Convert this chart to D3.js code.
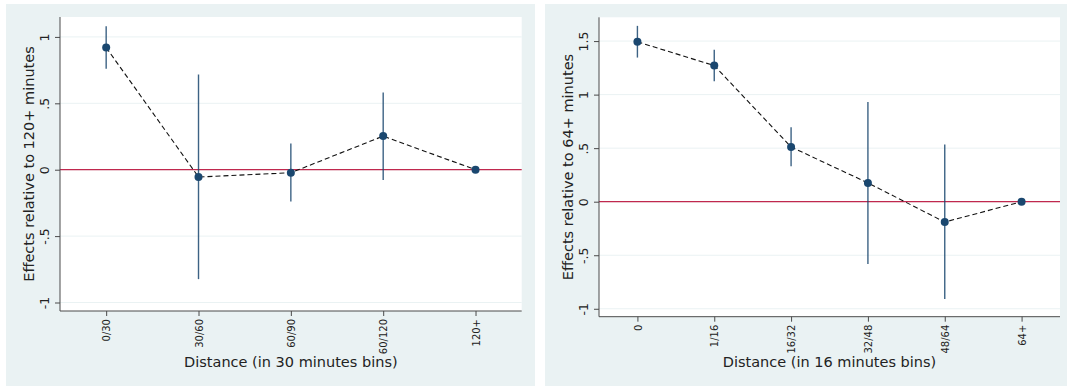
<!DOCTYPE html>
<html>
<head>
<meta charset="utf-8">
<script src="https://cdn.jsdelivr.net/npm/d3@7"></script>
<style>
  html, body { margin: 0; padding: 0; background: #fff; }
  svg { display: block; font-family: "DejaVu Sans", sans-serif; }
</style>
</head>
<body>
<svg id="chart" width="1067" height="387"></svg>
<script>
// data
const leftBins = ['0/30', '30/60', '60/90', '60/120', '120+'];
const leftEst = [0.92, -0.055, -0.023, 0.253, 0];
const leftLo = [0.76, -0.824, -0.24, -0.077, null];
const leftHi = [1.08, 0.717, 0.198, 0.582, null];
const leftYTicks = [-1, -0.5, 0, 0.5, 1];

const rightBins = ['0', '1/16', '16/32', '32/48', '48/64', '64+'];
const rightEst = [1.493, 1.271, 0.511, 0.175, -0.19, 0];
const rightLo = [1.346, 1.125, 0.331, -0.582, -0.909, null];
const rightHi = [1.642, 1.418, 0.695, 0.932, 0.533, null];
const rightYTicks = [-1, -0.5, 0, 0.5, 1, 1.5];

const BG = '#eaf2f3';
const NAVY = '#1a476f';
const AXIS = '#4a4a4a';

const svg = d3.select('#chart');

// stata style tick labels: .5, -.5
const fmt = v => String(v).replace('0.', '.');

function drawPanel(opt) {
  const { outer, plot, bins, est, lo, hi, yTicks, yDomain, yTitle, xTitle } = opt;

  svg.append('rect')
    .attr('x', outer.x0).attr('y', outer.y0)
    .attr('width', outer.x1 - outer.x0).attr('height', outer.y1 - outer.y0)
    .attr('fill', BG);

  svg.append('rect')
    .attr('x', plot.x0).attr('y', plot.y0)
    .attr('width', plot.x1 - plot.x0).attr('height', plot.y1 - plot.y0)
    .attr('fill', '#fff');

  const x = d3.scaleLinear().domain([-0.5, bins.length - 0.5]).range([plot.x0, plot.x1]);
  const y = d3.scaleLinear().domain(yDomain).range([plot.y1, plot.y0]);

  const g = svg.append('g');

  // grid
  g.append('g')
    .selectAll('line')
    .data(yTicks)
    .join('line')
    .attr('x1', plot.x0).attr('x2', plot.x1)
    .attr('y1', d => y(d)).attr('y2', d => y(d))
    .attr('stroke', BG).attr('stroke-width', 1);

  // zero reference line
  g.append('line')
    .attr('x1', plot.x0).attr('x2', plot.x1)
    .attr('y1', y(0)).attr('y2', y(0))
    .attr('stroke', '#c0284e').attr('stroke-width', 1.2);

  // y axis
  const yAxis = g.append('g')
    .attr('transform', `translate(${plot.x0},0)`)
    .call(d3.axisLeft(y).tickValues(yTicks).tickFormat(fmt).tickSize(5).tickSizeOuter(0));
  yAxis.select('.domain').attr('stroke', AXIS).attr('d', `M0,${plot.y0}V${plot.y1}`);
  yAxis.selectAll('.tick line').attr('stroke', AXIS);
  yAxis.selectAll('text')
    .attr('transform', 'rotate(-90)')
    .attr('text-anchor', 'middle')
    .attr('x', 0).attr('y', -11.5).attr('dy', 0)
    .attr('font-size', 12.5).attr('fill', '#222')
    .attr('font-family', '"DejaVu Sans", sans-serif');

  // x axis
  const xAxis = g.append('g')
    .attr('transform', `translate(0,${plot.y1})`)
    .call(d3.axisBottom(x).tickValues(d3.range(bins.length)).tickFormat(i => bins[i]).tickSize(5).tickSizeOuter(0));
  xAxis.select('.domain').attr('stroke', AXIS).attr('d', `M${plot.x0},0H${plot.x1}`);
  xAxis.selectAll('.tick line').attr('stroke', AXIS);
  xAxis.selectAll('text')
    .attr('transform', 'rotate(-90)')
    .attr('text-anchor', 'end')
    .attr('x', -8).attr('y', 0).attr('dy', '0.36em')
    .attr('font-size', 10).attr('fill', '#222')
    .attr('font-family', '"DejaVu Sans", sans-serif');

  // confidence intervals
  const idx = d3.range(bins.length).filter(i => lo[i] !== null);
  g.append('g')
    .selectAll('line')
    .data(idx)
    .join('line')
    .attr('x1', i => x(i)).attr('x2', i => x(i))
    .attr('y1', i => y(lo[i])).attr('y2', i => y(hi[i]))
    .attr('stroke', NAVY).attr('stroke-width', 1.4).attr('stroke-opacity', 0.85);

  // connecting dashed line
  const line = d3.line().x((d, i) => x(i)).y(d => y(d));
  g.append('path')
    .datum(est)
    .attr('d', line)
    .attr('fill', 'none')
    .attr('stroke', '#111')
    .attr('stroke-width', 1.1)
    .attr('stroke-dasharray', '5,3');

  // point estimates
  g.append('g')
    .selectAll('circle')
    .data(est)
    .join('circle')
    .attr('cx', (d, i) => x(i))
    .attr('cy', d => y(d))
    .attr('r', 4)
    .attr('fill', NAVY);

  // titles
  const cy = (plot.y0 + plot.y1) / 2;
  g.append('text')
    .attr('transform', `translate(${plot.x0 - 26},${cy}) rotate(-90)`)
    .attr('text-anchor', 'middle')
    .attr('font-size', 14.5).attr('fill', '#222')
    .text(yTitle);

  g.append('text')
    .attr('x', (plot.x0 + plot.x1) / 2)
    .attr('y', 367)
    .attr('text-anchor', 'middle')
    .attr('font-size', 14.5).attr('fill', '#222')
    .text(xTitle);
}

drawPanel({
  outer: { x0: 6, y0: 4, x1: 535, y1: 386 },
  plot: { x0: 60, y0: 17, x1: 521.7, y1: 311 },
  bins: leftBins, est: leftEst, lo: leftLo, hi: leftHi,
  yTicks: leftYTicks,
  yDomain: [-1.064, 1.15],
  yTitle: 'Effects relative to 120+ minutes',
  xTitle: 'Distance (in 30 minutes bins)',
});

drawPanel({
  outer: { x0: 545, y0: 4, x1: 1067, y1: 386 },
  plot: { x0: 599, y0: 17.3, x1: 1060, y1: 316.7 },
  bins: rightBins, est: rightEst, lo: rightLo, hi: rightHi,
  yTicks: rightYTicks,
  yDomain: [-1.074, 1.722],
  yTitle: 'Effects relative to 64+ minutes',
  xTitle: 'Distance (in 16 minutes bins)',
});
</script>
</body>
</html>
